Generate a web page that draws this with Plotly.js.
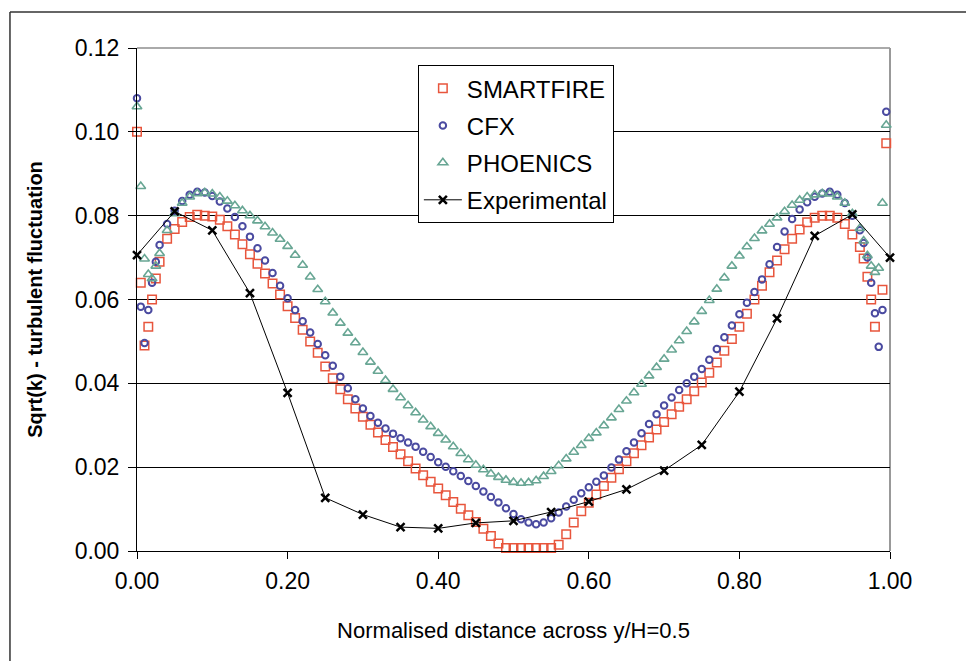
<!DOCTYPE html>
<html>
<head>
<meta charset="utf-8">
<script src="https://cdn.plot.ly/plotly-3.0.1.min.js"></script>
<style>html,body{margin:0;padding:0;background:#fff;}#chart{width:966px;height:661px;}</style>
</head>
<body>
<div id="chart"></div>
<script>
// Shared x positions of the simulation points (normalised distance)
const simX = [0, 0.005, 0.01, 0.015, 0.02, 0.025, 0.03,
  0.04, 0.05, 0.06, 0.07, 0.08, 0.09, 0.10, 0.11, 0.12, 0.13, 0.14, 0.15, 0.16, 0.17, 0.18, 0.19,
  0.20, 0.21, 0.22, 0.23, 0.24, 0.25, 0.26, 0.27, 0.28, 0.29, 0.30, 0.31, 0.32, 0.33, 0.34, 0.35,
  0.36, 0.37, 0.38, 0.39, 0.40, 0.41, 0.42, 0.43, 0.44, 0.45, 0.46, 0.47, 0.48, 0.49, 0.50, 0.51,
  0.52, 0.53, 0.54, 0.55, 0.56, 0.57, 0.58, 0.59, 0.60, 0.61, 0.62, 0.63, 0.64, 0.65, 0.66, 0.67,
  0.68, 0.69, 0.70, 0.71, 0.72, 0.73, 0.74, 0.75, 0.76, 0.77, 0.78, 0.79, 0.80, 0.81, 0.82, 0.83,
  0.84, 0.85, 0.86, 0.87, 0.88, 0.89, 0.90, 0.91, 0.92, 0.93, 0.94, 0.95, 0.96,
  0.965, 0.97, 0.975, 0.98, 0.985, 0.99, 0.995];

const smartfire = [0.100, 0.064, 0.049, 0.0535, 0.060, 0.065, 0.069,
  0.0745, 0.0768, 0.0785, 0.0797, 0.0802, 0.0800, 0.0798, 0.0790, 0.0775, 0.0755, 0.0732, 0.0708, 0.0685, 0.0662, 0.0638, 0.0612,
  0.0584, 0.0556, 0.0528, 0.0500, 0.0473, 0.0440, 0.0412, 0.0386, 0.0362, 0.0340, 0.0320, 0.0301, 0.0283, 0.0265, 0.0248, 0.0231,
  0.0214, 0.0197, 0.0181, 0.0165, 0.0149, 0.0133, 0.0117, 0.0101, 0.0085, 0.0069, 0.0053, 0.0036, 0.0018, 0.0007, 0.0007, 0.0007,
  0.0007, 0.0007, 0.0007, 0.0007, 0.0015, 0.0040, 0.0068, 0.0095, 0.0115, 0.0135, 0.0155, 0.0175, 0.0195, 0.0214, 0.0233, 0.0252,
  0.0271, 0.0290, 0.0308, 0.0326, 0.0344, 0.0362, 0.0381, 0.0402, 0.0425, 0.0450, 0.0478, 0.0506, 0.0535, 0.0566, 0.0600, 0.0633,
  0.0665, 0.0693, 0.0720, 0.0745, 0.0767, 0.0784, 0.0795, 0.0800, 0.0800, 0.0795, 0.0780, 0.0755, 0.0725,
  0.0698, 0.0654, 0.0600, 0.0535, null, 0.0623, 0.0973];

const cfx = [0.108, 0.0583, 0.0496, 0.0575, 0.064, 0.069, 0.073,
  0.0780, 0.0812, 0.0835, 0.0850, 0.0857, 0.0855, 0.0847, 0.0834, 0.0817, 0.0797, 0.0775, 0.0750, 0.0722, 0.0693, 0.0663, 0.0633,
  0.0603, 0.0575, 0.0548, 0.0521, 0.0494, 0.0467, 0.0442, 0.0416, 0.0388, 0.0362, 0.0340, 0.0322, 0.0306, 0.0292, 0.0280, 0.0269,
  0.0259, 0.0249, 0.0237, 0.0224, 0.0212, 0.0201, 0.0190, 0.0179, 0.0167, 0.0155, 0.0142, 0.0129, 0.0116, 0.0102, 0.0088, 0.0076,
  0.0068, 0.0064, 0.0068, 0.0078, 0.0092, 0.0106, 0.0122, 0.0138, 0.0152, 0.0165, 0.0180, 0.0199, 0.0218, 0.0238, 0.0259, 0.0281,
  0.0303, 0.0326, 0.0347, 0.0366, 0.0384, 0.0400, 0.0416, 0.0434, 0.0456, 0.0482, 0.0510, 0.0538, 0.0565, 0.0592, 0.0618, 0.0648,
  0.0684, 0.0725, 0.0762, 0.0792, 0.0815, 0.0832, 0.0845, 0.0853, 0.0857, 0.0850, 0.0830, 0.0800, 0.0765,
  0.0735, 0.0700, 0.0640, 0.0567, 0.0487, 0.0575, 0.1048];

const phoenics = [0.106, 0.087, 0.0697, 0.066, 0.065, 0.068, 0.071,
  0.0765, 0.0805, 0.0830, 0.0845, 0.0853, 0.0855, 0.0852, 0.0845, 0.0835, 0.0824, 0.0812, 0.0800, 0.0788, 0.0774, 0.0759, 0.0744,
  0.0727, 0.0706, 0.0682, 0.0654, 0.0624, 0.0595, 0.0568, 0.0544, 0.0520, 0.0497, 0.0474, 0.0451, 0.0429, 0.0407, 0.0386, 0.0366,
  0.0347, 0.0330, 0.0313, 0.0297, 0.0281, 0.0265, 0.0249, 0.0233, 0.0218, 0.0205, 0.0194, 0.0184, 0.0176, 0.0169, 0.0164, 0.0162,
  0.0163, 0.0168, 0.0178, 0.0190, 0.0204, 0.0220, 0.0236, 0.0252, 0.0269, 0.0282, 0.0299, 0.0318, 0.0338, 0.0358, 0.0378, 0.0398,
  0.0418, 0.0438, 0.0458, 0.0480, 0.0502, 0.0524, 0.0547, 0.0572, 0.0598, 0.0625, 0.0652, 0.0680, 0.0704, 0.0726, 0.0746, 0.0764,
  0.0780, 0.0795, 0.0810, 0.0825, 0.0837, 0.0845, 0.0850, 0.0853, 0.0852, 0.0845, 0.0830, 0.0805, 0.0770,
  0.0740, 0.0705, 0.0680, 0.0665, 0.0675, 0.0830, 0.1016];

const expX = [0.00, 0.05, 0.10, 0.15, 0.20, 0.25, 0.30, 0.35, 0.40, 0.45, 0.50, 0.55, 0.60, 0.65, 0.70, 0.75, 0.80, 0.85, 0.90, 0.95, 1.00];
const expY = [0.0706, 0.0810, 0.0765, 0.0615, 0.0377, 0.0127, 0.0087, 0.0057, 0.0054, 0.0067, 0.0072, 0.0093, 0.0118, 0.0147, 0.0192, 0.0253, 0.0380, 0.0555, 0.0752, 0.0803, 0.0700];

const names = ['SMARTFIRE', 'CFX', 'PHOENICS', 'Experimental'];
const xTicks = [0, 0.2, 0.4, 0.6, 0.8, 1.0];
const yTicks = [0, 0.02, 0.04, 0.06, 0.08, 0.10, 0.12];

const traces = [
  {x: simX, y: smartfire, name: names[0], legendgroup: 'a', mode: 'markers', type: 'scatter', cliponaxis: false,
   marker: {symbol: 'square-open', size: 8.5, color: '#e8553c', line: {width: 1.5, color: '#e8553c'}}},
  {x: simX, y: cfx, name: names[1], legendgroup: 'b', mode: 'markers', type: 'scatter', cliponaxis: false,
   marker: {symbol: 'circle-open', size: 6.5, color: '#4a4aa0', line: {width: 2, color: '#4a4aa0'}}},
  {x: simX, y: phoenics, name: names[2], legendgroup: 'c', mode: 'markers', type: 'scatter', cliponaxis: false,
   marker: {symbol: 'triangle-up-open', size: 8.5, color: '#68a694', line: {width: 1.6, color: '#68a694'}}},
  {x: expX, y: expY, name: names[3], legendgroup: 'd', mode: 'lines+markers', type: 'scatter', cliponaxis: false,
   line: {color: '#000', width: 1},
   marker: {symbol: 'x-thin', size: 8, color: '#000', line: {width: 2.5, color: '#000'}}}
];

const layout = {
  width: 966, height: 661,
  margin: {l: 137, r: 76, t: 48, b: 110},
  paper_bgcolor: '#fff', plot_bgcolor: '#fff',
  font: {family: 'Liberation Sans, Arial, sans-serif', color: '#000'},
  showlegend: true,
  legend: {x: 0.373, y: 0.966, xanchor: 'left', yanchor: 'top', bgcolor: '#fff',
           bordercolor: '#000', borderwidth: 1, font: {size: 24, family: 'Liberation Sans, Arial, sans-serif'},
           traceorder: 'grouped', tracegroupgap: 3, itemsizing: 'trace', itemwidth: 38},
  xaxis: {range: [0, 1], tickvals: xTicks, tickformat: '.2f', ticks: 'outside', ticklen: 7, tickcolor: '#000',
          showline: true, linecolor: '#000', linewidth: 1, showgrid: false, zeroline: false,
          tickfont: {size: 23}, ticklabelstandoff: 2,
          title: {text: 'Normalised distance across y/H=0.5', font: {size: 22}, standoff: 30}},
  yaxis: {range: [0, 0.12], tickvals: yTicks, tickformat: '.2f', ticks: 'outside', ticklen: 8, tickcolor: '#000',
          showline: true, linecolor: '#000', linewidth: 1, showgrid: true, gridcolor: '#000', gridwidth: 1, zeroline: false,
          tickfont: {size: 23}, ticklabelstandoff: 4,
          title: {text: '<b>Sqrt(k) - turbulent fluctuation</b>', font: {size: 20}, standoff: 26}},
  shapes: [
    {type: 'line', xref: 'paper', yref: 'paper', x0: 0, x1: 1, y0: 1, y1: 1, layer: 'between', line: {color: '#aaaaaa', width: 2}},
    {type: 'line', xref: 'paper', yref: 'paper', x0: 1, x1: 1, y0: 0, y1: 1, layer: 'between', line: {color: '#999999', width: 2}},
    {type: 'line', xref: 'paper', yref: 'paper', x0: -0.1687, x1: 1.12, y0: 1.0716, y1: 1.0716, line: {color: '#333', width: 1.5}},
    {type: 'line', xref: 'paper', yref: 'paper', x0: -0.1687, x1: -0.1687, y0: 1.0716, y1: -0.25, line: {color: '#333', width: 1.5}}
  ]
};

Plotly.newPlot('chart', traces, layout, {displayModeBar: false, staticPlot: true});
</script>
</body>
</html>
